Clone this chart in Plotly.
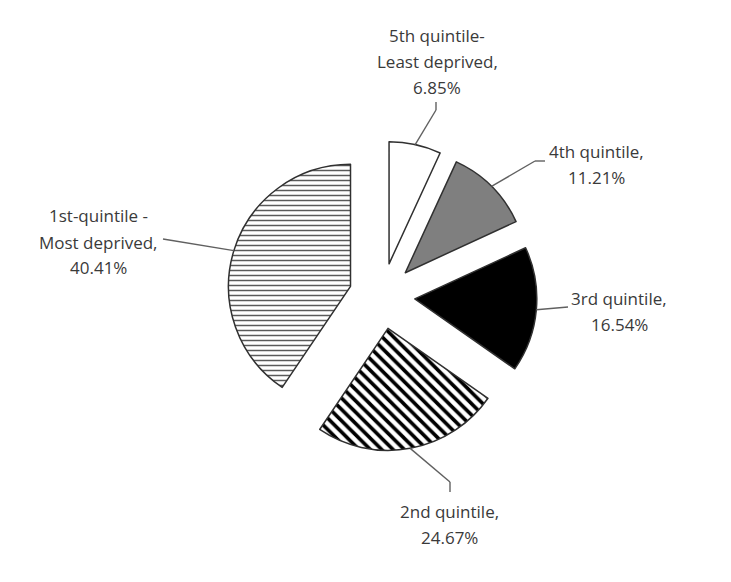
import math
import plotly.graph_objects as go

# ---- data ----
categories = ["5th quintile-Least deprived", "4th quintile", "3rd quintile",
              "2nd quintile", "1st-quintile - Most deprived"]
values = [6.85, 11.21, 16.54, 24.67, 40.41]
label_names = [["5th quintile-", "Least deprived,"], ["4th quintile,"], ["3rd quintile,"],
               ["2nd quintile,"], ["1st-quintile -", "Most deprived,"]]

# ---- layout / style ----
W, H = 731, 582
OFF = 8                    # page body margin
FW, FH = W - 2 * OFF, H - 2 * OFF
CX, CY = 382, 296          # pie centre (page px)
R = 122                    # pie radius (px)
PULL = 0.27
fill_colors = ["#ffffff", "#7f7f7f", "#000000", "#ffffff", "#ffffff"]
pat_shapes = ["", "", "", "\\", "-"]
pat_fg = ["#000000", "#000000", "#000000", "#000000", "#5a5a5a"]
pat_size = [8, 8, 8, 8, 5]
pat_solid = [0.3, 0.3, 0.3, 0.45, 0.3]
text_color = "#3a3a3a"
font_family = "Open Sans"
font_size = 17
line_gap = 26

# label top-line centres and leader line routes (page px)
label_pos = [(437, 35), (596, 151), (619, 298), (449, 511), (98, 216)]
leader_elbow = [(436, 110), (535, 161), None, (450, 482), None]
leader_end = [(436, 102), (545, 161), (568, 307), (450, 492), (163, 239)]

def px(x):
    return (x - OFF) / FW

def py(y):
    return 1 - (y - OFF) / FH

outer = R * (1 + PULL)
dom_x = [px(CX - outer), px(CX + outer)]
dom_y = [py(CY + outer), py(CY - outer)]

fig = go.Figure(go.Pie(
    labels=categories, values=values, sort=False, direction="clockwise",
    rotation=0, pull=[PULL] * len(values), textinfo="none", hoverinfo="label+percent",
    domain=dict(x=dom_x, y=dom_y),
    marker=dict(colors=fill_colors,
                line=dict(color="#303030", width=1.5),
                pattern=dict(shape=pat_shapes, fgcolor=pat_fg, bgcolor=fill_colors,
                             size=pat_size, solidity=pat_solid, fillmode="replace")),
))

total = sum(values)
shapes = []
annotations = []
cum = 0.0
for i, v in enumerate(values):
    mid = 2 * math.pi * (cum + v / 2) / total
    cum += v
    dx, dy = math.sin(mid), -math.cos(mid)
    ax, ay = CX + outer * dx, CY + outer * dy
    pts = [(ax, ay)]
    if leader_elbow[i] is not None:
        pts.append(leader_elbow[i])
    pts.append(leader_end[i])
    for (x0, y0), (x1, y1) in zip(pts[:-1], pts[1:]):
        shapes.append(dict(type="line", xref="paper", yref="paper",
                           x0=px(x0), y0=py(y0), x1=px(x1), y1=py(y1),
                           line=dict(color="#606060", width=1.4)))
    lines = label_names[i] + [f"{v:.2f}%"]
    lx, ly = label_pos[i]
    for j, t in enumerate(lines):
        annotations.append(dict(text=t, xref="paper", yref="paper",
                                x=px(lx), y=py(ly + j * line_gap),
                                xanchor="center", yanchor="middle", showarrow=False,
                                font=dict(family=font_family, size=font_size, color=text_color)))

fig.update_layout(width=FW, height=FH, margin=dict(l=0, r=0, t=0, b=0),
                  paper_bgcolor="white", plot_bgcolor="white", showlegend=False,
                  shapes=shapes, annotations=annotations)

fig.write_html("out.html")
